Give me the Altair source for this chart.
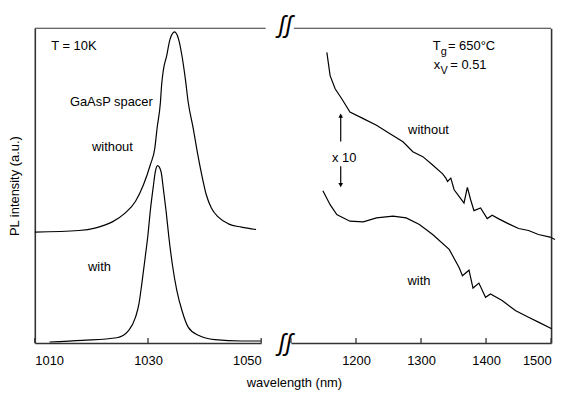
import altair as alt
import pandas as pd

# ---------------- data ----------------
# Left panel, 1010-1050 nm
wl_without_L = [1010.0, 1017.8, 1020.8, 1023.7, 1026.0, 1027.8, 1029.2, 1030.4, 1031.2, 1031.6,
                1032.2, 1032.4, 1032.7, 1033.3, 1033.9, 1034.7, 1035.4, 1036.0, 1036.6, 1037.1,
                1038.0, 1038.6, 1039.5, 1040.3, 1041.2, 1042.4, 1044.2, 1046.5, 1049.1]
pl_without_L = [111.7, 113.3, 116.0, 122.0, 131.0, 142.7, 159.3, 179.3, 196.0, 216.0,
                242.7, 259.3, 274.3, 289.3, 306.0, 313.3, 306.0, 289.3, 266.0, 242.7,
                216.0, 196.0, 169.3, 149.3, 136.0, 127.0, 120.0, 116.7, 114.3]

wl_with_L = [1012.6, 1018.4, 1024.5, 1026.6, 1027.8, 1028.4, 1028.9, 1029.5, 1030.0, 1030.4,
             1030.9, 1031.3, 1031.7, 1032.3, 1032.7, 1033.2, 1033.7, 1034.3, 1035.1, 1036.0,
             1037.1, 1038.9, 1041.8, 1046.5, 1050.0]
pl_with_L = [1.0, 2.7, 5.3, 12.7, 26.0, 39.3, 59.3, 86.0, 109.3, 132.7,
             156.0, 172.7, 178.7, 172.7, 156.0, 132.7, 106.0, 79.3, 52.7, 32.7,
             16.0, 7.7, 3.3, 2.0, 2.0]

# Right panel, 1100-1500 nm (x 10)
wl_without_R = [1155.2, 1160.2, 1167.9, 1178.1, 1190.7, 1211.2, 1231.5, 1251.7, 1272.2, 1287.4,
                1302.7, 1317.9, 1333.2, 1338.2, 1340.8, 1345.8, 1350.9, 1358.5, 1366.1, 1371.3,
                1376.3, 1381.4, 1391.6, 1401.8, 1409.4, 1419.5, 1434.8, 1450.0, 1465.3, 1480.5,
                1498.4, 1506.0]
pl_without_R = [292.7, 269.3, 256.0, 246.0, 232.7, 226.0, 219.3, 211.0, 202.7, 192.7,
                187.7, 179.3, 170.3, 166.0, 162.7, 166.0, 154.3, 147.7, 141.0, 156.7,
                144.3, 133.3, 136.0, 125.3, 128.7, 125.0, 120.0, 115.3, 113.3, 109.3,
                106.7, 104.3]

wl_with_R = [1149.1, 1160.2, 1170.5, 1175.5, 1190.7, 1211.2, 1231.5, 1256.9, 1277.2, 1297.5,
             1317.9, 1343.3, 1358.5, 1363.7, 1373.8, 1379.9, 1389.0, 1399.2, 1406.8, 1424.7,
             1445.0, 1465.3, 1480.5, 1500.9]
pl_with_R = [153.3, 139.3, 129.3, 127.7, 122.7, 122.0, 126.0, 127.7, 126.0, 119.3,
             109.3, 94.3, 76.0, 67.7, 73.3, 55.3, 60.3, 46.0, 49.3, 42.7,
             32.7, 26.0, 21.0, 14.3]

left_ticks = [1010, 1030, 1050]
right_ticks = [1100, 1200, 1300, 1400, 1500]
right_labels = [1200, 1300, 1400, 1500]

# annotations
left_text = ["T = 10K", "GaAsP spacer", "without", "with"]
left_text_x = [1012.9, 1016.2, 1020.1, 1019.4]
left_text_y = [299.0, 243.0, 197.7, 76.0]

right_text = ["without", "x 10", "with"]
right_text_x = [1311.5, 1181.9, 1296.8]
right_text_y = [214.3, 186.0, 62.7]

# ---------------- chart ----------------
W_L, W_R, H = 228, 262, 317
FONT = "Liberation Sans"
INK = "black"
AX = "#333333"

yS = alt.Scale(domain=[0, H], nice=False, zero=False)
xL = alt.Scale(domain=[1010, 1050], nice=False, zero=False)
xR = alt.Scale(domain=[1100, 1500], nice=False, zero=False)

axXL = alt.Axis(values=left_ticks, format="d", ticks=False, labelPadding=12, title=None)
axYL = alt.Axis(labels=False, ticks=False, title="PL intensity (a.u.)", titlePadding=13)
axXR = alt.Axis(values=right_labels, format="d", ticks=False, labelPadding=12,
                title="wavelength (nm)", titleX=3, titleY=44, titleAlign="center",
                titleBaseline="alphabetic")
axYR = alt.Axis(orient="right", labels=False, ticks=False, title=None)

dfL = pd.concat([
    pd.DataFrame({"wl": wl_without_L, "pl": pl_without_L, "s": "without"}),
    pd.DataFrame({"wl": wl_with_L, "pl": pl_with_L, "s": "with"}),
])
dfR = pd.concat([
    pd.DataFrame({"wl": wl_without_R, "pl": pl_without_R, "s": "without"}),
    pd.DataFrame({"wl": wl_with_R, "pl": pl_with_R, "s": "with"}),
])


def XL(f):
    return alt.X(f, scale=xL, axis=axXL)


def YL(f):
    return alt.Y(f, scale=yS, axis=axYL)


def XR(f):
    return alt.X(f, scale=xR, axis=axXR)


def YR(f):
    return alt.Y(f, scale=yS, axis=axYR)


# ---- left panel
linesL = alt.Chart(dfL).mark_line(color=INK, strokeWidth=1.2, clip=False, interpolate="monotone").encode(
    x=XL("wl:Q"), y=YL("pl:Q"), detail="s:N")
ticksL = alt.Chart(pd.DataFrame({"t": left_ticks})).mark_rule(color=AX, strokeWidth=1.3).encode(
    x=XL("t:Q"), y=alt.value(H), y2=alt.value(H - 5))
topL = alt.Chart(pd.DataFrame({"a": [1010.0], "b": [1050.8]})).mark_rule(color=AX, strokeWidth=1).encode(
    x=XL("a:Q"), x2="b:Q", y=alt.value(0))
breaks = alt.Chart(pd.DataFrame({"b": [1054.3]})).mark_text(
    text="ʃʃ", fontSize=24, color=INK, font=FONT, fontStyle="italic", baseline="middle", align="center")
breakTop = breaks.encode(x=XL("b:Q"), y=alt.value(-2))
breakBot = breaks.encode(x=XL("b:Q"), y=alt.value(H + 1))
textL = alt.Chart(pd.DataFrame({"x": left_text_x, "y": left_text_y, "t": left_text})).mark_text(
    align="left", baseline="middle", fontSize=13, color=INK).encode(
    x=XL("x:Q"), y=YL("y:Q"), text="t:N")

left = alt.layer(linesL, ticksL, topL, breakTop, breakBot, textL).properties(width=W_L, height=H)

# ---- right panel
linesR = alt.Chart(dfR).mark_line(color=INK, strokeWidth=1.2, clip=False).encode(
    x=XR("wl:Q"), y=YR("pl:Q"), detail="s:N")
ticksR = alt.Chart(pd.DataFrame({"t": right_ticks})).mark_rule(color=AX, strokeWidth=1.3).encode(
    x=XR("t:Q"), y=alt.value(H), y2=alt.value(H - 5))
topR = alt.Chart(pd.DataFrame({"a": [1104.5], "b": [1500.0]})).mark_rule(color=AX, strokeWidth=1).encode(
    x=XR("a:Q"), x2="b:Q", y=alt.value(0))
textR = alt.Chart(pd.DataFrame({"x": right_text_x, "y": right_text_y, "t": right_text})).mark_text(
    align="center", baseline="middle", fontSize=13, color=INK).encode(
    x=XR("x:Q"), y=YR("y:Q"), text="t:N")

# T_g = 650°C and x_V = 0.51 (with subscripts)
sub_main = pd.DataFrame({"x": [1317.9, 1319.5], "y": [299.3, 280.3], "t": ["T", "x"]})
sub_low = pd.DataFrame({"x": [1330.5, 1330.0], "y": [293.3, 274.3], "t": ["g", "V"]})
sub_rest = pd.DataFrame({"x": [1341.5, 1345.0], "y": [299.3, 280.3], "t": ["= 650°C", "= 0.51"]})
tg1 = alt.Chart(sub_main).mark_text(align="left", baseline="middle", fontSize=13, color=INK).encode(
    x=XR("x:Q"), y=YR("y:Q"), text="t:N")
tg2 = alt.Chart(sub_low).mark_text(align="left", baseline="middle", fontSize=11, color=INK).encode(
    x=XR("x:Q"), y=YR("y:Q"), text="t:N")
tg3 = alt.Chart(sub_rest).mark_text(align="left", baseline="middle", fontSize=13, color=INK).encode(
    x=XR("x:Q"), y=YR("y:Q"), text="t:N")

# x10 arrows
arrow_x = [1176.5, 1176.5]
arrow_from = [203.0, 178.0]
arrow_to = [229.0, 159.0]
arrows = alt.Chart(pd.DataFrame({"x": arrow_x, "a": arrow_from, "b": arrow_to})).mark_rule(
    color=INK, strokeWidth=1.2).encode(
    x=XR("x:Q"), y=YR("a:Q"), y2="b:Q")
heads = alt.Chart(pd.DataFrame({"x": arrow_x, "y": arrow_to, "s": ["triangle-up", "triangle-down"]})).mark_point(
    filled=True, color=INK, size=22, opacity=1).encode(
    x=XR("x:Q"), y=YR("y:Q"),
    shape=alt.Shape("s:N", scale=None, legend=None))

right = alt.layer(linesR, ticksR, topR, textR, tg1, tg2, tg3, arrows, heads).properties(width=W_R, height=H)

chart = alt.hconcat(left, right, spacing=30, bounds="flush").properties(
    padding={"left": 1, "top": 5, "right": 5, "bottom": 5}
).configure_view(stroke=None).configure_axis(
    labelFont=FONT, titleFont=FONT, labelFontSize=13, titleFontSize=13, titleFontWeight="normal",
    labelColor=INK, titleColor=INK, domainColor=AX, domainWidth=1.6, grid=False
).configure_text(font=FONT)

chart.save("out.html", embed_options={"renderer": "svg", "actions": False})
